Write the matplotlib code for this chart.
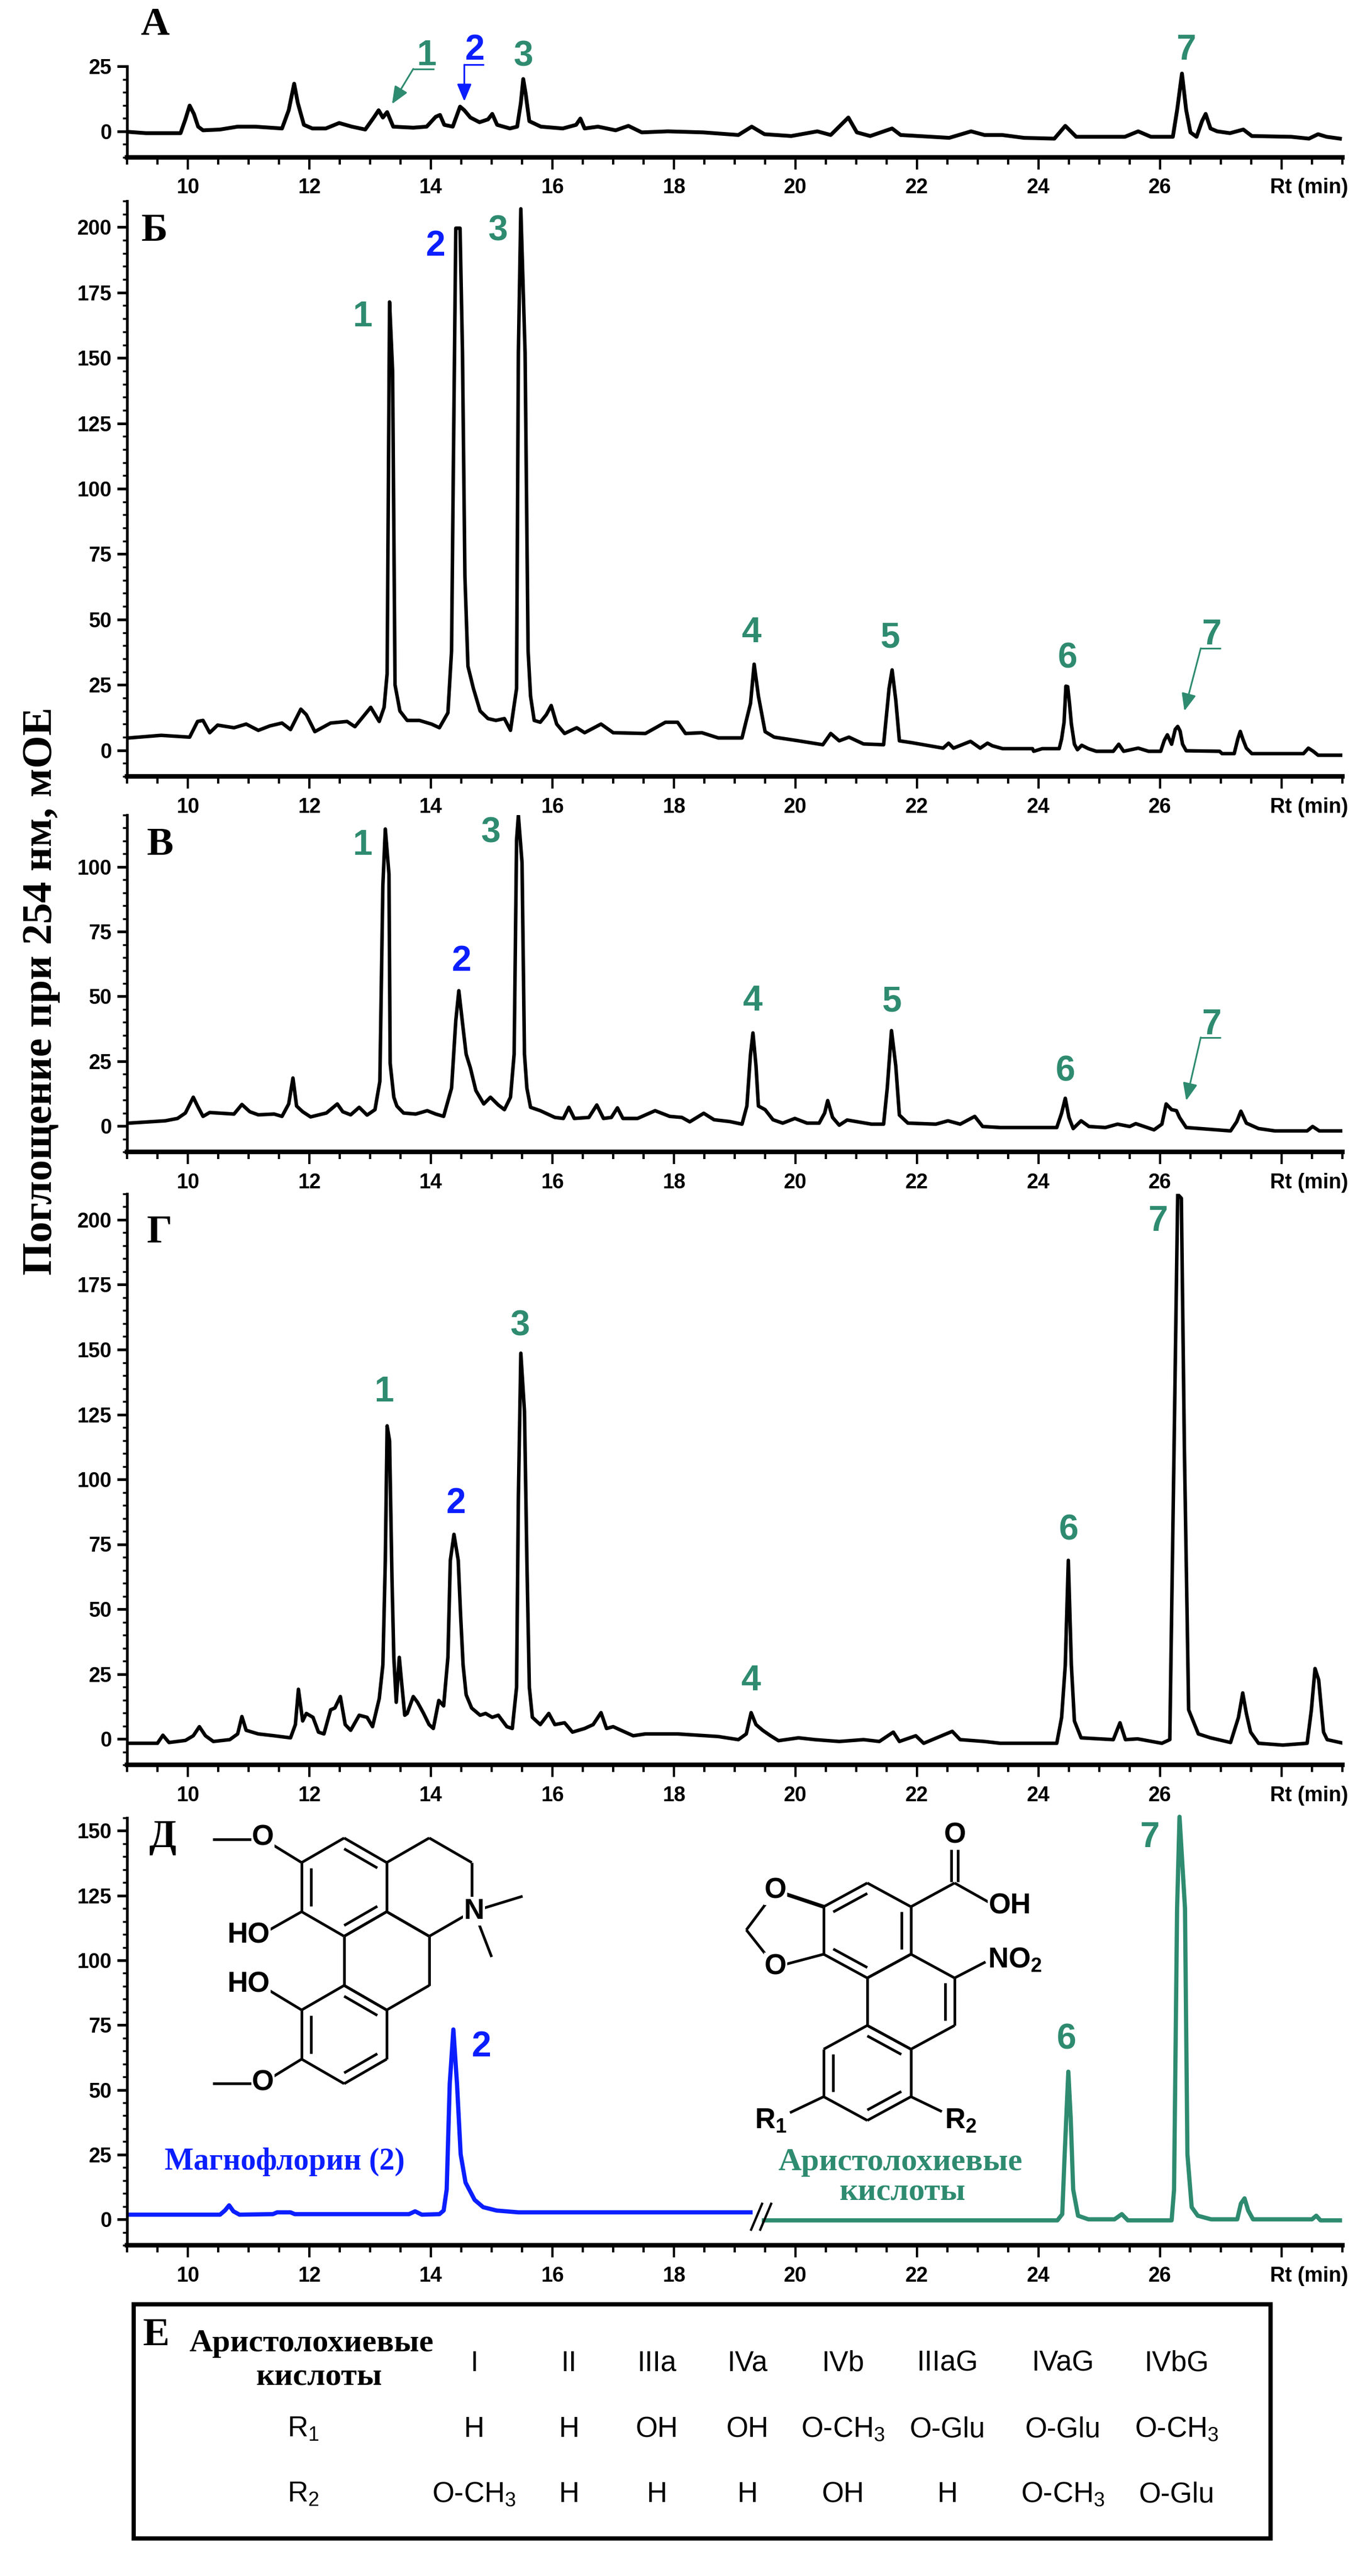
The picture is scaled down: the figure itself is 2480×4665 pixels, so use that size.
import matplotlib
matplotlib.use('Agg')
import matplotlib.pyplot as plt
from matplotlib.ticker import MultipleLocator, FixedLocator
from matplotlib.patches import Rectangle
from matplotlib.transforms import offset_copy

plt.rcParams['font.family'] = ['Liberation Sans', 'DejaVu Sans']
plt.rcParams['mathtext.fontset'] = 'custom'
plt.rcParams['mathtext.rm'] = 'Liberation Sans'
plt.rcParams['mathtext.bf'] = 'Liberation Sans:bold'

GREEN = '#2e8b6f'
BLUE = '#0a1eff'
SERIF = ['Liberation Serif', 'DejaVu Serif']

# ---- chromatogram traces (Rt, min / absorbance, mAU) ----
rt_a = [9.02, 9.31, 9.88, 9.96, 10.03, 10.10, 10.17, 10.25, 10.53, 10.82, 11.11, 11.55, 11.66, 11.75,
        11.81, 11.91, 12.05, 12.27, 12.49, 12.70, 12.92, 13.06, 13.14, 13.21, 13.28, 13.38, 13.71, 13.93,
        14.08, 14.15, 14.22, 14.36, 14.48, 14.55, 14.65, 14.80, 14.94, 15.01, 15.09, 15.30, 15.42, 15.48,
        15.52, 15.56, 15.62, 15.81, 16.17, 16.39, 16.46, 16.53, 16.75, 17.04, 17.25, 17.47, 17.90, 18.48,
        19.06, 19.28, 19.49, 19.93, 20.36, 20.58, 20.87, 21.01, 21.23, 21.59, 21.73, 22.24, 22.53, 22.89,
        23.11, 23.40, 23.76, 24.26, 24.44, 24.62, 25.42, 25.64, 25.85, 26.21, 26.28, 26.36, 26.43, 26.50,
        26.60, 26.69, 26.75, 26.83, 26.94, 27.15, 27.37, 27.51, 28.16, 28.45, 28.60, 28.74, 28.96]
abs_a = [-0.2, -0.7, -0.7, 4.6, 9.9, 6.7, 1.8, 0.4, 0.7, 1.8, 1.8, 1.1, 8.1, 18.3,
         10.9, 2.5, 1.1, 1.1, 3.2, 1.8, 0.7, 5.3, 8.1, 5.3, 7.4, 1.8, 1.4, 1.8,
         5.6, 6.3, 2.5, 1.8, 9.5, 8.1, 5.3, 3.5, 4.6, 6.7, 2.5, 1.1, 1.8, 10.9,
         20.1, 14.4, 3.9, 1.8, 1.1, 2.5, 4.9, 1.1, 1.8, 0.4, 2.1, -0.4, 0.0, -0.4,
         -1.4, 1.8, -1.1, -1.8, 0.0, -1.4, 5.3, -0.4, -1.8, 1.1, -1.4, -2.1, -2.5, 0.0,
         -1.4, -1.4, -2.5, -2.8, 2.1, -2.1, -2.1, 0.0, -2.1, -2.1, 8.1, 22.2, 8.1, -0.4,
         -2.1, 3.9, 6.7, 1.1, 0.0, -0.7, 0.7, -1.8, -2.1, -2.8, -1.1, -2.1, -2.8]

rt_b = [9.03, 9.56, 10.03, 10.16, 10.25, 10.36, 10.49, 10.76, 10.96, 11.16, 11.35, 11.55, 11.69, 11.86,
        11.95, 12.09, 12.35, 12.62, 12.75, 13.01, 13.15, 13.23, 13.28, 13.32, 13.37, 13.41, 13.49, 13.61,
        13.81, 14.01, 14.14, 14.28, 14.34, 14.37, 14.41, 14.48, 14.52, 14.56, 14.61, 14.70, 14.81, 14.94,
        15.07, 15.21, 15.31, 15.41, 15.44, 15.48, 15.55, 15.60, 15.64, 15.70, 15.80, 15.90, 15.98, 16.07,
        16.20, 16.40, 16.53, 16.80, 17.00, 17.53, 17.86, 18.06, 18.19, 18.46, 18.73, 19.12, 19.26, 19.32,
        19.39, 19.50, 19.65, 20.05, 20.45, 20.58, 20.72, 20.88, 21.12, 21.45, 21.54, 21.59, 21.65, 21.71,
        21.91, 22.43, 22.52, 22.60, 22.88, 23.04, 23.16, 23.24, 23.41, 23.90, 23.92, 24.06, 24.34, 24.38,
        24.42, 24.45, 24.48, 24.51, 24.54, 24.59, 24.64, 24.71, 24.82, 24.95, 25.23, 25.32, 25.40, 25.64,
        25.81, 26.01, 26.07, 26.12, 26.19, 26.25, 26.29, 26.33, 26.37, 26.43, 26.98, 27.02, 27.22, 27.28,
        27.32, 27.36, 27.42, 27.51, 28.36, 28.44, 28.52, 28.60, 29.02]
abs_b = [4.7, 5.7, 5.0, 11.0, 11.4, 6.7, 9.6, 8.6, 10.0, 7.6, 9.3, 10.4, 7.9, 15.7,
         13.6, 7.1, 10.4, 11.0, 9.0, 16.4, 11.0, 16.4, 29.3, 171.4, 145.0, 25.0, 15.0, 11.4,
         11.4, 10.0, 8.6, 14.3, 37.9, 109.0, 199.6, 199.6, 152.0, 66.4, 32.1, 23.6, 15.0, 12.1,
         11.4, 12.1, 7.6, 23.6, 152.0, 207.0, 152.0, 37.9, 20.7, 11.4, 10.7, 13.6, 17.1, 10.0,
         6.4, 8.6, 6.7, 10.0, 6.7, 6.4, 10.7, 10.7, 6.4, 6.7, 4.7, 4.7, 17.9, 32.9,
         20.7, 7.1, 5.0, 3.6, 2.1, 6.4, 3.6, 5.0, 2.4, 2.1, 23.6, 30.7, 19.3, 3.6,
         2.9, 0.8, 2.7, 0.8, 3.4, 0.8, 2.7, 1.7, 0.6, 0.6, -0.4, 0.6, 0.6, 4.4,
         10.7, 24.5, 24.3, 17.7, 10.1, 2.3, 0.2, 1.9, 0.6, -0.4, -0.4, 2.3, -0.4, 0.8,
         -0.4, -0.4, 3.8, 5.9, 2.3, 8.0, 9.1, 7.3, 2.3, -0.2, -0.4, -1.3, -1.3, 4.4,
         7.2, 4.4, 0.8, -1.3, -1.3, 0.8, -0.4, -1.9, -1.9]

rt_v = [9.03, 9.63, 9.83, 9.96, 10.09, 10.16, 10.25, 10.36, 10.76, 10.89, 11.02, 11.16, 11.42, 11.55,
        11.66, 11.73, 11.79, 11.89, 12.02, 12.28, 12.46, 12.55, 12.68, 12.82, 12.95, 13.08, 13.16, 13.21,
        13.25, 13.31, 13.33, 13.39, 13.44, 13.55, 13.75, 13.94, 14.08, 14.21, 14.34, 14.41, 14.46, 14.52,
        14.58, 14.65, 14.74, 14.87, 14.98, 15.11, 15.21, 15.31, 15.37, 15.41, 15.44, 15.50, 15.54, 15.58,
        15.64, 15.80, 16.04, 16.18, 16.27, 16.36, 16.60, 16.73, 16.84, 16.97, 17.07, 17.16, 17.40, 17.69,
        17.93, 18.13, 18.26, 18.49, 18.66, 18.92, 19.12, 19.20, 19.26, 19.30, 19.35, 19.39, 19.50, 19.63,
        19.79, 19.99, 20.19, 20.39, 20.48, 20.53, 20.61, 20.72, 20.85, 21.25, 21.45, 21.51, 21.58, 21.65,
        21.71, 21.85, 22.31, 22.51, 22.71, 22.95, 23.08, 23.37, 24.30, 24.38, 24.44, 24.50, 24.57, 24.70,
        24.83, 25.10, 25.30, 25.50, 25.60, 25.90, 26.03, 26.10, 26.19, 26.27, 26.32, 26.43, 27.16, 27.26,
        27.33, 27.42, 27.62, 27.89, 28.42, 28.51, 28.62, 29.02]
abs_v = [1.1, 2.0, 2.9, 5.0, 11.1, 7.7, 3.7, 5.2, 4.6, 8.3, 5.5, 4.3, 4.6, 3.7,
         8.5, 18.5, 7.7, 5.5, 3.5, 5.0, 8.5, 5.5, 4.3, 7.2, 4.2, 6.3, 17.2, 92.9,
         114.6, 97.2, 24.2, 11.1, 7.7, 5.0, 4.6, 5.9, 4.6, 3.7, 14.6, 40.7, 52.2, 39.8,
         27.7, 22.4, 13.7, 8.5, 11.1, 8.1, 6.3, 11.1, 27.7, 110.3, 119.8, 101.6, 27.7, 14.6,
         7.2, 5.9, 3.3, 2.9, 7.2, 2.9, 3.3, 8.1, 2.9, 3.3, 7.0, 2.9, 2.9, 5.9,
         3.7, 3.3, 1.6, 4.9, 2.4, 1.7, 0.7, 7.7, 27.7, 35.9, 23.3, 7.7, 6.3, 2.4,
         1.1, 2.9, 1.1, 1.1, 5.0, 9.8, 3.3, 0.3, 2.3, 0.7, 0.7, 14.6, 36.8, 23.3,
         4.2, 1.1, 0.7, 2.0, 0.7, 3.7, -0.2, -0.6, -0.6, 5.0, 10.7, 3.3, -1.0, 2.0,
         -0.2, -0.6, 0.7, -0.2, 0.9, -1.5, 0.7, 8.5, 6.3, 5.9, 3.3, -0.6, -1.9, 1.6,
         5.7, 1.1, -1.0, -1.9, -1.9, -0.2, -1.9, -1.9]

rt_g = [9.03, 9.50, 9.59, 9.69, 9.96, 10.09, 10.19, 10.29, 10.42, 10.69, 10.82, 10.89, 10.96, 11.16,
        11.42, 11.69, 11.77, 11.82, 11.89, 11.95, 12.06, 12.15, 12.24, 12.35, 12.42, 12.51, 12.59, 12.68,
        12.82, 12.95, 13.04, 13.15, 13.21, 13.25, 13.28, 13.32, 13.36, 13.39, 13.43, 13.48, 13.52, 13.57,
        13.61, 13.71, 13.78, 13.88, 13.97, 14.04, 14.13, 14.21, 14.28, 14.32, 14.38, 14.45, 14.49, 14.53,
        14.58, 14.67, 14.81, 14.90, 15.01, 15.11, 15.25, 15.34, 15.41, 15.44, 15.48, 15.54, 15.58, 15.62,
        15.67, 15.80, 15.94, 16.04, 16.20, 16.33, 16.53, 16.67, 16.80, 16.89, 17.00, 17.13, 17.33, 17.53,
        18.06, 18.73, 19.06, 19.19, 19.27, 19.35, 19.46, 19.59, 19.72, 20.05, 20.32, 20.72, 21.12, 21.38,
        21.61, 21.71, 21.98, 22.11, 22.58, 22.71, 23.11, 23.37, 24.30, 24.38, 24.44, 24.49, 24.54, 24.59,
        24.70, 25.23, 25.34, 25.43, 25.63, 26.03, 26.16, 26.23, 26.29, 26.35, 26.40, 26.47, 26.63, 26.83,
        27.16, 27.29, 27.36, 27.42, 27.49, 27.62, 28.02, 28.42, 28.49, 28.55, 28.61, 28.69, 28.75, 29.02]
abs_g = [-1.7, -1.7, 1.4, -1.4, -0.6, 1.2, 4.7, 1.2, -1.0, -0.3, 1.9, 8.6, 3.3, 1.9,
         1.2, 0.4, 5.5, 19.1, 6.9, 9.8, 8.3, 2.6, 1.9, 11.2, 11.9, 16.3, 5.5, 3.3,
         9.1, 8.3, 4.7, 15.5, 28.5, 68.8, 120.6, 114.8, 61.6, 31.4, 14.1, 31.4, 21.3, 9.1,
         9.8, 16.3, 14.1, 9.8, 5.5, 4.0, 14.8, 12.7, 31.4, 68.8, 78.8, 68.8, 47.2, 28.5,
         17.0, 11.9, 9.1, 9.8, 8.3, 9.1, 4.7, 4.0, 19.9, 93.2, 148.6, 126.3, 68.8, 19.9,
         8.3, 5.5, 9.8, 5.5, 6.2, 2.6, 4.0, 5.5, 10.1, 4.0, 4.7, 3.3, 1.2, 1.9,
         1.9, 0.9, -0.3, 1.9, 10.1, 5.5, 3.3, 1.2, -0.7, 0.4, -0.3, -1.0, -0.3, -1.0,
         2.6, -1.0, 1.2, -1.7, 2.9, -0.3, -1.0, -1.7, -1.7, 8.3, 28.5, 68.8, 28.5, 6.9,
         0.4, -0.3, 6.2, -0.3, 0.0, -1.7, -0.3, 111.9, 209.8, 208.3, 111.9, 11.2, 1.9, 0.4,
         -1.4, 8.3, 17.7, 9.8, 2.6, -1.7, -2.4, -1.7, 11.2, 27.1, 22.7, 2.6, -0.3, -1.7]

# panel Д: magnoflorine standard (blue) and aristolochic acids standard (green)
rt_magn = [9.02, 10.53, 10.61, 10.68, 10.75, 10.85, 11.40, 11.47, 11.69, 11.76, 13.64, 13.74, 13.85,
           14.14, 14.21, 14.26, 14.31, 14.37, 14.43, 14.49, 14.57, 14.72, 14.86, 15.08, 15.44, 19.26]
abs_magn = [1.8, 1.8, 3.4, 5.4, 3.1, 1.8, 2.0, 2.7, 2.7, 2.0, 2.0, 3.1, 1.8,
            2.0, 3.4, 11.5, 52.2, 73.3, 52.2, 25.1, 14.2, 7.5, 4.7, 3.4, 2.7, 2.7]
rt_arist = [19.48, 24.31, 24.39, 24.43, 24.49, 24.53, 24.57, 24.65, 24.82, 25.25, 25.37, 25.47, 26.19,
            26.23, 26.28, 26.32, 26.41, 26.45, 26.52, 26.62, 26.84, 27.27, 27.33, 27.39, 27.45, 27.53,
            28.50, 28.57, 28.64, 28.96]
abs_arist = [-0.4, -0.4, 2.0, 25.1, 57.0, 38.7, 11.5, 1.4, 0.0, 0.0, 2.0, -0.4, -0.4,
             11.5, 120.1, 155.4, 120.1, 25.1, 4.7, 1.4, 0.0, 0.0, 6.1, 8.1, 3.4, 0.0,
             0.0, 1.4, -0.4, -0.4]

# peak numbers: (text, Rt, absorbance of the label baseline, colour)
labels_a = [('1', 13.93, 25.4, GREEN), ('2', 14.72, 27.5, BLUE), ('3', 15.52, 25.0, GREEN), ('7', 26.43, 27.5, GREEN)]
labels_b = [('1', 12.88, 162, GREEN), ('2', 14.08, 189, BLUE), ('3', 15.10, 195, GREEN), ('4', 19.28, 41.4, GREEN),
            ('5', 21.55, 39.3, GREEN), ('6', 24.48, 31.4, GREEN), ('7', 26.85, 40.5, GREEN)]
labels_v = [('1', 12.88, 104.6, GREEN), ('2', 14.50, 59.8, BLUE), ('3', 14.98, 109.4, GREEN), ('4', 19.30, 44.6, GREEN),
            ('5', 21.58, 44.3, GREEN), ('6', 24.44, 17.4, GREEN), ('7', 26.85, 35.5, GREEN)]
labels_g = [('1', 13.23, 130, GREEN), ('2', 14.41, 87, BLUE), ('3', 15.47, 155.4, GREEN), ('4', 19.27, 18.7, GREEN),
            ('6', 24.49, 76.7, GREEN), ('7', 25.96, 195.7, GREEN)]
labels_d = [('2', 14.83, 63, BLUE), ('6', 24.46, 65.8, GREEN), ('7', 25.83, 143.8, GREEN)]

# table Е
acid_names = ['I', 'II', 'IIIa', 'IVa', 'IVb', 'IIIaG', 'IVaG', 'IVbG']
r1_values = ['H', 'H', 'OH', 'OH', 'O-CH$_3$', 'O-Glu', 'O-Glu', 'O-CH$_3$']
r2_values = ['O-CH$_3$', 'H', 'H', 'H', 'OH', 'H', 'O-CH$_3$', 'O-Glu']

W, H = 2480, 4665
X0, X1 = 230, 2430
fig = plt.figure(figsize=(W / 100, H / 100), dpi=100)


def add_panel(top, bottom, ylim, yticks):
    ax = fig.add_axes([X0 / W, 1 - bottom / H, (X1 - X0) / W, (bottom - top) / H])
    ax.patch.set_alpha(0)
    ax.set_xlim(9, 29)
    ax.set_ylim(*ylim)
    ax.spines['top'].set_visible(False)
    ax.spines['right'].set_visible(False)
    ax.spines['left'].set_linewidth(3.5)
    ax.spines['bottom'].set_linewidth(6)
    ax.xaxis.set_major_locator(FixedLocator(list(range(10, 29, 2))))
    ax.set_xticklabels([str(v) for v in range(10, 27, 2)] + [''])
    ax.xaxis.set_minor_locator(MultipleLocator(0.5))
    ax.set_yticks(yticks)
    ax.yaxis.set_minor_locator(MultipleLocator(5))
    ax.tick_params(axis='x', which='major', length=16, width=3, pad=11, labelsize=27)
    ax.tick_params(axis='x', which='minor', length=9, width=3)
    ax.tick_params(axis='y', which='major', length=13, width=3.5, pad=7, labelsize=27)
    ax.tick_params(axis='y', which='minor', length=6, width=2.5)
    for lab in ax.get_xticklabels() + ax.get_yticklabels():
        lab.set_fontweight('bold')
    ax.text(28.45, 0, 'Rt (min)', transform=offset_copy(ax.get_xaxis_transform(), fig=fig, y=-27, units='points'),
            ha='center', va='top', fontsize=27, fontweight='bold')
    return ax


def peak_labels(ax, labels):
    for txt, x, y, c in labels:
        ax.text(x, y, txt, color=c, fontsize=46, fontweight='bold', ha='center', va='baseline', clip_on=False)


def leader(ax, x0, x1, y, tip, color):
    ax.plot([x0, x1], [y, y], color=color, lw=2.2, clip_on=False, solid_capstyle='butt')
    ax.annotate('', xy=tip, xytext=(x0, y), annotation_clip=False,
                arrowprops=dict(arrowstyle='-|>,head_length=0.6,head_width=0.25', color=color, lw=2.2,
                                mutation_scale=32, shrinkA=0, shrinkB=0))


ax_a = add_panel(120, 285, (-10, 25), [0, 25])
ax_a.plot(rt_a, abs_a, color='k', lw=5)
peak_labels(ax_a, labels_a)
leader(ax_a, 13.71, 14.05, 24.0, (13.36, 10.5), GREEN)
leader(ax_a, 14.55, 14.87, 25.6, (14.55, 11.5), BLUE)

ax_b = add_panel(364, 1406, (-10, 210), list(range(0, 201, 25)))
ax_b.plot(rt_b, abs_b, color='k', lw=4.6)
peak_labels(ax_b, labels_b)
leader(ax_b, 26.67, 27.0, 39, (26.40, 15), GREEN)

ax_v = add_panel(1476, 2086, (-10, 120), list(range(0, 101, 25)))
ax_v.plot(rt_v, abs_v, color='k', lw=4.6)
peak_labels(ax_v, labels_v)
leader(ax_v, 26.67, 27.0, 34.2, (26.43, 9.8), GREEN)

ax_g = add_panel(2162, 3196, (-10, 210), list(range(0, 201, 25)))
ax_g.plot(rt_g, abs_g, color='k', lw=4.6)
peak_labels(ax_g, labels_g)

ax_d = add_panel(3292, 4066, (-10, 155), list(range(0, 151, 25)))
ax_d.plot(rt_magn, abs_magn, color=BLUE, lw=5.5)
ax_d.plot(rt_arist, abs_arist, color=GREEN, lw=5.5, clip_on=False)
ax_d.plot([19.27, 19.45], [-4, 6], color='k', lw=3)
ax_d.plot([19.42, 19.60], [-4, 6], color='k', lw=3)
peak_labels(ax_d, labels_d)

fig.text(75 / W, 1 - 1795 / H, 'Поглощение при 254 нм, мОЕ', rotation=90, ha='center', va='center',
         fontsize=55, family=SERIF, fontweight='bold')

# overlay in pixel coordinates for panel letters, structures and table
ov = fig.add_axes([0, 0, 1, 1])
ov.set_xlim(0, W)
ov.set_ylim(H, 0)
ov.axis('off')
ov.set_zorder(10)

for letter, x, y in [('А', 254, 63), ('Б', 256, 436), ('В', 266, 1548), ('Г', 266, 2250), ('Д', 270, 3345),
                     ('Е', 259, 4247)]:
    ov.text(x, y, letter, fontsize=52, family=SERIF, fontweight='bold', ha='left', va='baseline')

BLW = 3.5


def bond(p, q, lw=BLW):
    ov.plot([p[0], q[0]], [p[1], q[1]], color='k', lw=lw, solid_capstyle='butt', zorder=2)


def ring(cx, cy, w, s, doubles=()):
    v = [(cx, cy - s), (cx + w, cy - s / 2), (cx + w, cy + s / 2), (cx, cy + s), (cx - w, cy + s / 2), (cx - w, cy - s / 2)]
    for i in range(6):
        bond(v[i], v[(i + 1) % 6])
    for i in doubles:
        p, q = v[i], v[(i + 1) % 6]
        bond((cx + (p[0] - cx) * 0.78, cy + (p[1] - cy) * 0.78), (cx + (q[0] - cx) * 0.78, cy + (q[1] - cy) * 0.78))
    return v


def atom(x, y, txt, color='k', ha='center'):
    ov.text(x, y, txt, fontsize=37, fontweight='bold', ha=ha, va='center', color=color, zorder=3,
            bbox=dict(facecolor='white', edgecolor='none', pad=1))


# magnoflorine
mw, ms = 77, 89
ra = ring(623, 3417.5, mw, ms, (0, 2, 4))
rb = ring(777, 3417.5, mw, ms)
rc = ring(700, 3551, mw, ms)
rd = ring(623, 3684.5, mw, ms, (0, 2, 4))
bond(ra[5], (476, 3330))
bond((385, 3331), (470, 3331))
bond(ra[4], (470, 3505))
bond(rd[5], (470, 3594))
bond(rd[4], (476, 3772))
bond((385, 3773), (470, 3773))
bond((858, 3461), (946, 3434))
bond((858, 3461), (890, 3544))
atom(476, 3328, 'O')
atom(450, 3505, 'HO')
atom(858, 3461, 'N')
atom(450, 3594, 'HO')
atom(476, 3772, 'O')

# aristolochic acid skeleton
aw, as_ = 79, 86
r1 = ring(1570, 3496, aw, as_, (5, 1, 3))
r2 = ring(1649, 3625, aw, as_, (1,))
r3 = ring(1570, 3754, aw, as_, (0, 2, 4))
bond(r1[1], (1728, 3410))
bond((1722, 3408), (1722, 3340))
bond((1734, 3408), (1734, 3340))
bond((1728, 3410), (1792, 3446))
bond(r2[1], (1784, 3553))
bond(r1[5], (1404, 3424), lw=5)
bond((1404, 3424), (1351, 3495))
bond((1351, 3495), (1404, 3562))
bond((1404, 3562), r1[4])
bond(r3[4], (1430, 3826))
bond(r3[2], (1705, 3824))
atom(1729, 3324, 'O')
atom(1828, 3452, 'OH')
atom(1788, 3550, 'NO$_\\mathbf{2}$', ha='left')
atom(1404, 3424, 'O')
atom(1404, 3562, 'O')
atom(1395, 3841, 'R$_\\mathbf{1}$')
atom(1739, 3841, 'R$_\\mathbf{2}$')

ov.text(515, 3929, 'Магнофлорин (2)', fontsize=40, family=SERIF, fontweight='bold', color=BLUE, ha='center', va='baseline')
ov.text(1630, 3930, 'Аристолохиевые', fontsize=42, family=SERIF, fontweight='bold', color=GREEN, ha='center', va='baseline')
ov.text(1634, 3984, 'кислоты', fontsize=42, family=SERIF, fontweight='bold', color=GREEN, ha='center', va='baseline')

# table Е
ov.add_patch(Rectangle((242, 4173), 2300 - 242, 4597 - 4173, fill=False, edgecolor='k', lw=5.5))
ov.text(564, 4258, 'Аристолохиевые', fontsize=42, family=SERIF, fontweight='bold', ha='center', va='baseline')
ov.text(578, 4319, 'кислоты', fontsize=42, family=SERIF, fontweight='bold', ha='center', va='baseline')
ov.text(549, 4413, 'R$_1$', fontsize=37, ha='center', va='baseline')
ov.text(549, 4531, 'R$_2$', fontsize=37, ha='center', va='baseline')
col_x = [858, 1030, 1189, 1353, 1526, 1715, 1924, 2130]
for x, name, v1, v2 in zip(col_x, acid_names, r1_values, r2_values):
    ov.text(x, 4294, name, fontsize=37, ha='center', va='baseline')
    ov.text(x, 4413, v1, fontsize=37, ha='center', va='baseline')
    ov.text(x, 4531, v2, fontsize=37, ha='center', va='baseline')

fig.savefig('out.png', dpi=100)
